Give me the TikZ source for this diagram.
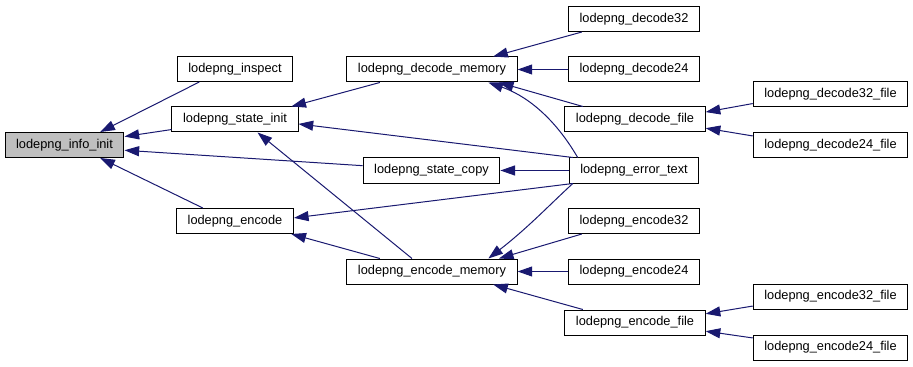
\documentclass[tikz,border=0pt]{standalone}
\usepackage{fontspec}
\setmainfont{Liberation Sans}
\usetikzlibrary{arrows.meta}
\definecolor{edgeblue}{HTML}{191970}
\definecolor{rootgray}{HTML}{BFBFBF}

\begin{document}
\begin{tikzpicture}[
    x=0.75pt, y=-0.75pt,
    func/.style={rectangle, draw=black, line width=0.75pt, fill=white, font=\fontsize{9.6}{11}\selectfont, minimum height=18.75pt, inner xsep=8.3pt, inner ysep=0pt},
    root/.style={func, fill=rootgray},
    call/.style={{Triangle[length=11pt, width=7.5pt]}-, draw=edgeblue, line width=0.75pt}
]
\useasboundingbox (0,0) rectangle (913,367);

% Nodes
\node[root] (info) at (64.5,145) {lodepng\_info\_init};

\node[func] (inspect) at (235,69) {lodepng\_inspect};
\node[func] (stateinit) at (235,119.5) {lodepng\_state\_init};
\node[func] (encode) at (235,221) {lodepng\_encode};

\node[func] (decmem) at (432,69.5) {lodepng\_decode\_memory};
\node[func] (statecopy) at (431.5,170.5) {lodepng\_state\_copy};
\node[func] (encmem) at (432,271.5) {lodepng\_encode\_memory};

\node[func] (dec32) at (634,19) {lodepng\_decode32};
\node[func] (dec24) at (634,69.5) {lodepng\_decode24};
\node[func] (decfile) at (635,119.5) {lodepng\_decode\_file};
\node[func] (errtext) at (634,170.5) {lodepng\_error\_text};
\node[func] (enc32) at (634,221) {lodepng\_encode32};
\node[func] (enc24) at (634,271.5) {lodepng\_encode24};
\node[func] (encfile) at (635,322.5) {lodepng\_encode\_file};

\node[func] (dec32file) at (830.5,94) {lodepng\_decode32\_file};
\node[func] (dec24file) at (830.5,145.5) {lodepng\_decode24\_file};
\node[func] (enc32file) at (830.5,296.5) {lodepng\_encode32\_file};
\node[func] (enc24file) at (830.5,347.5) {lodepng\_encode24\_file};

% Calls into lodepng_info_init
\draw[call] (info.20) -- (inspect.200);
\draw[call] (info.8) -- (stateinit.189);
\draw[call] (info.-5) -- (statecopy.176);
\draw[call] (info.-20) -- (encode.158);

% Second column
\draw[call] (stateinit.13.5) -- (decmem.194);
\draw[call] (stateinit.-4) -- (errtext.168);
\draw[call] (stateinit.-30) -- (encmem.147);
\draw[call] (statecopy.east) -- (errtext.west);
\draw[call] (encode.3) -- (errtext.192);
\draw[call] (encode.-13) -- (encmem.166.5);

% Third column
\draw[call] (decmem.12) -- (dec32.194);
\draw[call] (decmem.east) -- (dec24.west);
\draw[call] (decmem.-11) -- (decfile.166.5);
\draw[call] (decmem.-13) .. controls +(35,12) and +(-25,-43) .. (errtext.167);
\draw[call] (encmem.13) .. controls +(40,-31) and +(-22,20) .. (errtext.192.6);
\draw[call] (encmem.11) -- (enc32.194);
\draw[call] (encmem.east) -- (enc24.west);
\draw[call] (encmem.-12) -- (encfile.166.5);

% File wrappers
\draw[call] (decfile.6) -- (dec32file.187.5);
\draw[call] (decfile.-7) -- (dec24file.173);
\draw[call] (encfile.7.7) -- (enc32file.187.7);
\draw[call] (encfile.-7.7) -- (enc24file.173);

\end{tikzpicture}
\end{document}
